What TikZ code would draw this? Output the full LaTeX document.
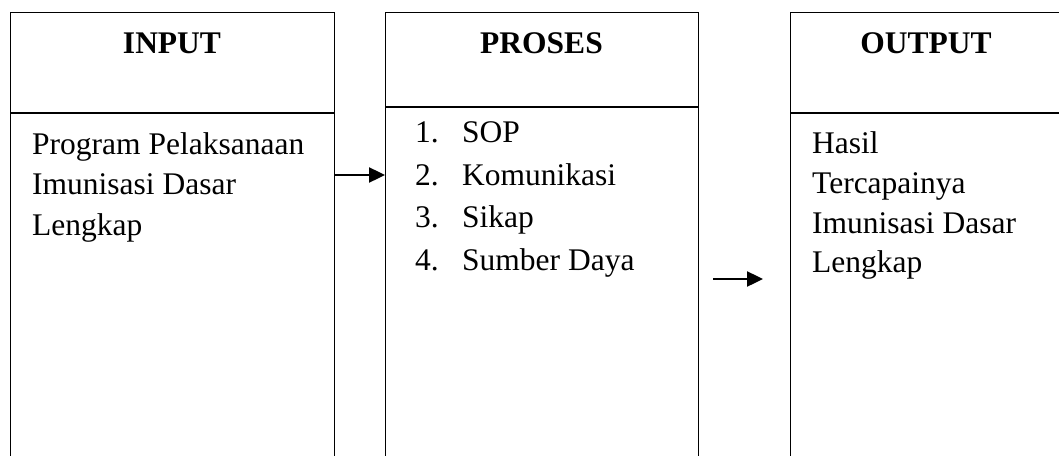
\documentclass[tikz,border=0pt]{standalone}
\usepackage{fontspec}
\setmainfont{Liberation Serif}
\usetikzlibrary{arrows.meta}
\begin{document}
\begin{tikzpicture}[x=1pt,y=-1pt,
  box/.style={draw, line width=1.4pt, rectangle, anchor=north west, inner sep=0pt, minimum height=480pt},
  divline/.style={line width=1.4pt},
  ttl/.style={font=\fontsize{31.5}{38}\selectfont\bfseries, anchor=base, inner sep=0pt},
  txt/.style={font=\fontsize{31.5}{39}\selectfont, anchor=base west, inner sep=0pt},
  arr/.style={line width=2.4pt, -{Triangle[length=16pt,width=15pt]}}]
\useasboundingbox (0,0) rectangle (1059,455);
\clip (0,0) rectangle (1059,455);
% boxes
\node[box, minimum width=324pt] (inbox) at (10,12) {};
\node[box, minimum width=313pt] (prbox) at (385,12) {};
\node[box, minimum width=272pt] (outbox) at (790,12) {};
% dividers
\draw[divline] (inbox.west |- 0,113) -- (inbox.east |- 0,113);
\draw[divline] (prbox.west |- 0,107) -- (prbox.east |- 0,107);
\draw[divline] (outbox.west |- 0,113) -- (outbox.east |- 0,113);
% titles
\node[ttl] (tin) at (172,53) {INPUT};
\node[ttl] (tpr) at (541.5,53) {PROSES};
\node[ttl] (tout) at (926,53) {OUTPUT};
% input text
\node[txt] (i1) at (32,154) {Program Pelaksanaan};
\node[txt] (i2) at (32,194) {Imunisasi Dasar};
\node[txt] (i3) at (32,235) {Lengkap};
% proses list
\node[txt] (n1) at (415,142) {1.};
\node[txt] (p1) at (462,142) {SOP};
\node[txt] (n2) at (415,185) {2.};
\node[txt] (p2) at (462,185) {Komunikasi};
\node[txt] (n3) at (415,227) {3.};
\node[txt] (p3) at (462,227) {Sikap};
\node[txt] (n4) at (415,270) {4.};
\node[txt] (p4) at (462,270) {Sumber Daya};
% output text
\node[txt] (o1) at (812,153) {Hasil};
\node[txt] (o2) at (812,193) {Tercapainya};
\node[txt] (o3) at (812,233) {Imunisasi Dasar};
\node[txt] (o4) at (812,272) {Lengkap};
% arrows
\draw[arr] (inbox.east |- 0,175) -- (prbox.west |- 0,175);
\coordinate (a2s) at (713,279);
\coordinate (a2e) at (763,279);
\draw[arr] (a2s) -- (a2e);
\end{tikzpicture}
\end{document}
